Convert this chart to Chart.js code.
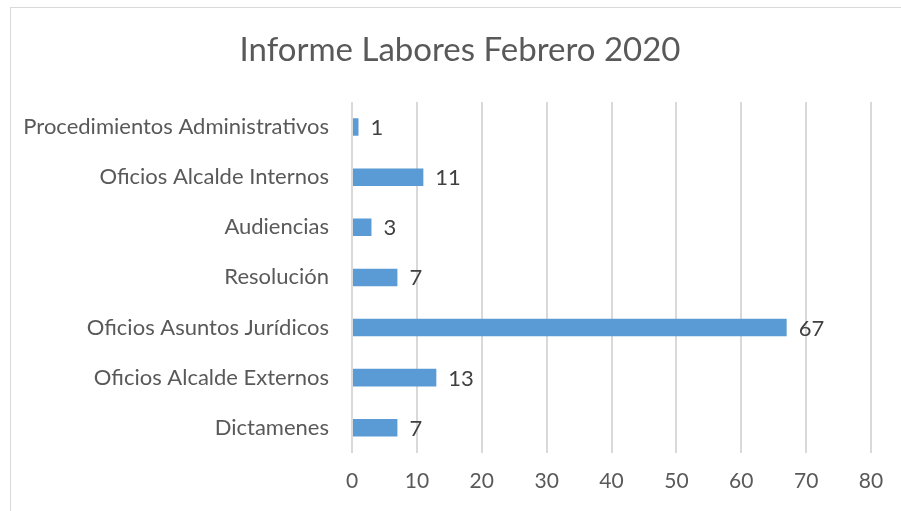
<!DOCTYPE html>
<html>
<head>
<meta charset="utf-8">
<script src="https://cdn.jsdelivr.net/npm/chart.js@4"></script>
<style>
  html, body { margin: 0; padding: 0; background: #fff; }
  #wrap { width: 901px; height: 511px; }
</style>
</head>
<body>
<div id="wrap"><canvas id="myChart" width="901" height="511"></canvas></div>
<script>
const categories = [
  'Procedimientos Administrativos',
  'Oficios Alcalde Internos',
  'Audiencias',
  'Resolución',
  'Oficios Asuntos Jurídicos',
  'Oficios Alcalde Externos',
  'Dictamenes'
];
const values = [1, 11, 3, 7, 67, 13, 7];
const xTicks = [0, 10, 20, 30, 40, 50, 60, 70, 80];
const chartTitle = 'Informe Labores Febrero 2020';

const textColor = '#595959';
const gridColor = '#d9d9d9';
const fontFamily = 'Lato, "Liberation Sans", sans-serif';

// borde del area del grafico (recortado) y titulo centrado en el marco
const frame = {
  id: 'frame',
  beforeDraw(chart) {
    const c = chart.ctx;
    c.save();
    c.fillStyle = '#fff';
    c.fillRect(0, 0, chart.width, chart.height);
    c.strokeStyle = gridColor;
    c.lineWidth = 1;
    c.strokeRect(10.5, 7.5, chart.width, chart.height);
    c.font = '33px ' + fontFamily;
    c.fillStyle = textColor;
    c.textAlign = 'center';
    c.textBaseline = 'middle';
    c.fillText(chartTitle, 460, 50);
    c.restore();
  }
};

// etiquetas de valor al final de cada barra
const valueLabels = {
  id: 'valueLabels',
  afterDatasetsDraw(chart) {
    const c = chart.ctx;
    const meta = chart.getDatasetMeta(0);
    c.save();
    c.font = '22px ' + fontFamily;
    c.fillStyle = '#404040';
    c.textAlign = 'left';
    c.textBaseline = 'middle';
    meta.data.forEach((bar, i) => {
      c.fillText(values[i], bar.x + 12, bar.y + 1);
    });
    c.restore();
  }
};

const ctx = document.getElementById('myChart').getContext('2d');

new Chart(ctx, {
  type: 'bar',
  data: {
    labels: categories,
    datasets: [{
      data: values,
      backgroundColor: '#5b9bd5',
      borderWidth: 0,
      barPercentage: 0.7,
      categoryPercentage: 0.5
    }]
  },
  options: {
    indexAxis: 'y',
    responsive: false,
    animation: false,
    layout: { padding: { left: 10, right: 30, top: 102, bottom: 1 } },
    plugins: {
      legend: { display: false },
      tooltip: { enabled: false },
      title: { display: false }
    },
    scales: {
      x: {
        min: 0,
        max: 80,
        afterBuildTicks(scale) {
          scale.ticks = xTicks.map(v => ({ value: v }));
        },
        grid: { color: gridColor, lineWidth: 2, drawTicks: false },
        border: { display: false },
        ticks: {
          color: textColor,
          font: { family: fontFamily, size: 21 },
          padding: 16
        }
      },
      y: {
        grid: { display: false, drawTicks: false },
        border: { display: false },
        afterFit(scale) { scale.width = 342; },
        ticks: {
          color: textColor,
          font: { family: fontFamily, size: 22 },
          padding: 23
        }
      }
    }
  },
  plugins: [frame, valueLabels]
});
</script>
</body>
</html>
